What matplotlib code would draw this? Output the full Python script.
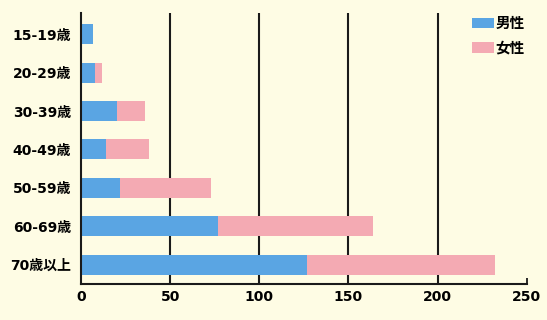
import numpy as np
import matplotlib.pyplot as plt

# wide DejaVu digits, CJK glyphs from Noto
plt.rcParams['font.family'] = ['DejaVu Sans', 'Noto Sans CJK JP']

ages = ["15-19歳", "20-29歳", "30-39歳", "40-49歳", "50-59歳", "60-69歳", "70歳以上"]
male = [7, 8, 20, 14, 22, 77, 127]
female = [0, 4, 16, 24, 51, 87, 105]
xticks = [0, 50, 100, 150, 200, 250]

bg = "#fefce4"
blue = "#5aa5e3"
pink = "#f4aab3"

fig = plt.figure(figsize=(5.47, 3.2), dpi=100, facecolor=bg)
ax = fig.add_axes([0.148, 0.114, 0.815, 0.845], facecolor=bg)

y = np.arange(len(ages))
# grid lines behind the bars, none at the far right
ax.vlines(xticks[1:-1], -0.55, 6.49, color="#1a1a1a", lw=1.5, zorder=0)
ax.barh(y, male, height=0.52, color=blue, label="男性", zorder=2)
ax.barh(y, female, left=male, height=0.52, color=pink, label="女性", zorder=2)

ax.set_xlim(0, 250)
ax.set_ylim(6.49, -0.55)
ax.set_yticks(y)
ax.set_yticklabels(ages, fontsize=10, fontweight="bold")
ax.set_xticks(xticks)
ax.set_xticklabels([str(t) for t in xticks], fontsize=10, fontweight="bold")
ax.tick_params(axis="y", length=0, pad=7)
ax.tick_params(axis="x", direction="in", length=4, width=1.3, color="#1a1a1a", pad=5)

for s in ["top", "right"]:
    ax.spines[s].set_visible(False)
for s in ["left", "bottom"]:
    ax.spines[s].set_linewidth(1.5)
    ax.spines[s].set_color("#1a1a1a")

leg = ax.legend(loc="upper right", bbox_to_anchor=(1.015, 1.025), frameon=False,
                prop={"family": ["Noto Sans CJK JP"], "weight": "bold", "size": 10.5},
                handlelength=1.5, handleheight=0.75,
                handletextpad=0.1, labelspacing=0.6, borderaxespad=0.2)

fig.savefig("out.png", dpi=100, facecolor=bg)
